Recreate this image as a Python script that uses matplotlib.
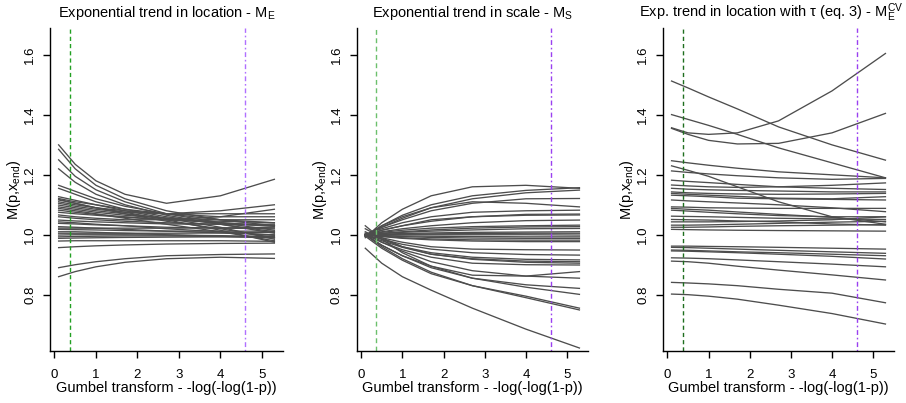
import matplotlib
matplotlib.use("Agg")
import matplotlib.pyplot as plt

plt.rcParams['font.family'] = ['Liberation Sans', 'DejaVu Sans']
plt.rcParams['mathtext.fontset'] = 'custom'
plt.rcParams['mathtext.rm'] = 'Liberation Sans'
plt.rcParams['mathtext.it'] = 'Liberation Sans:italic'

# x positions (Gumbel transform) at which the curves were read
gumbel_x = [0.1, 0.5, 1.0, 1.7, 2.7, 4.0, 5.3]

# Panel 1: exponential trend in location (M_E)
curves_loc = [
    [1.300, 1.235, 1.180, 1.135, 1.105, 1.130, 1.185],
    [1.285, 1.220, 1.165, 1.120, 1.080, 1.050, 1.030],
    [1.250, 1.195, 1.150, 1.110, 1.070, 1.040, 1.015],
    [1.220, 1.175, 1.135, 1.100, 1.065, 1.035, 1.005],
    [1.165, 1.145, 1.120, 1.095, 1.070, 1.050, 1.040],
    [1.155, 1.135, 1.110, 1.085, 1.060, 1.035, 1.010],
    [1.127, 1.115, 1.100, 1.080, 1.055, 1.025, 0.985],
    [1.121, 1.110, 1.100, 1.085, 1.070, 1.060, 1.060],
    [1.116, 1.105, 1.090, 1.075, 1.050, 1.015, 0.975],
    [1.118, 1.105, 1.090, 1.070, 1.045, 1.020, 0.990],
    [1.110, 1.100, 1.090, 1.080, 1.070, 1.070, 1.070],
    [1.105, 1.095, 1.085, 1.075, 1.070, 1.080, 1.100],
    [1.099, 1.090, 1.080, 1.070, 1.055, 1.040, 1.030],
    [1.093, 1.085, 1.075, 1.065, 1.055, 1.050, 1.050],
    [1.088, 1.080, 1.070, 1.055, 1.035, 1.010, 0.980],
    [1.082, 1.075, 1.068, 1.060, 1.050, 1.040, 1.028],
    [1.075, 1.070, 1.065, 1.058, 1.050, 1.045, 1.040],
    [1.066, 1.060, 1.055, 1.050, 1.050, 1.060, 1.085],
    [1.060, 1.055, 1.050, 1.045, 1.040, 1.035, 1.030],
    [1.049, 1.046, 1.043, 1.040, 1.036, 1.035, 1.035],
    [1.043, 1.040, 1.035, 1.030, 1.020, 1.010, 0.998],
    [1.038, 1.036, 1.033, 1.030, 1.025, 1.022, 1.020],
    [1.027, 1.025, 1.022, 1.018, 1.012, 1.006, 1.000],
    [1.022, 1.022, 1.022, 1.022, 1.022, 1.023, 1.025],
    [1.018, 1.017, 1.016, 1.014, 1.012, 1.012, 1.012],
    [1.010, 1.010, 1.008, 1.005, 1.000, 0.995, 0.990],
    [1.005, 1.005, 1.005, 1.005, 1.005, 1.006, 1.008],
    [0.999, 1.000, 1.000, 1.000, 0.999, 0.997, 0.994],
    [0.993, 0.994, 0.995, 0.996, 0.996, 0.994, 0.990],
    [0.988, 0.989, 0.990, 0.991, 0.992, 0.993, 0.995],
    [0.979, 0.980, 0.980, 0.980, 0.980, 0.980, 0.978],
    [0.957, 0.960, 0.963, 0.966, 0.969, 0.971, 0.972],
    [0.890, 0.900, 0.910, 0.920, 0.930, 0.934, 0.936],
    [0.860, 0.877, 0.893, 0.908, 0.920, 0.925, 0.921],
]

# Panel 2: exponential trend in scale (M_S)
curves_scale = [
    [0.990, 1.040, 1.085, 1.130, 1.160, 1.165, 1.155],
    [0.995, 1.030, 1.065, 1.100, 1.130, 1.148, 1.157],
    [0.995, 1.025, 1.055, 1.090, 1.120, 1.140, 1.149],
    [1.000, 1.025, 1.050, 1.080, 1.105, 1.120, 1.121],
    [0.995, 1.030, 1.060, 1.090, 1.110, 1.105, 1.093],
    [1.000, 1.020, 1.040, 1.060, 1.075, 1.080, 1.082],
    [1.000, 1.015, 1.030, 1.045, 1.060, 1.068, 1.069],
    [0.995, 1.015, 1.030, 1.050, 1.060, 1.065, 1.066],
    [1.000, 1.010, 1.020, 1.030, 1.040, 1.047, 1.049],
    [1.000, 1.008, 1.015, 1.022, 1.027, 1.030, 1.032],
    [1.000, 1.005, 1.010, 1.016, 1.022, 1.026, 1.027],
    [1.000, 1.004, 1.008, 1.012, 1.016, 1.020, 1.021],
    [1.000, 1.002, 1.004, 1.006, 1.008, 1.009, 1.010],
    [1.000, 1.001, 1.002, 1.003, 1.004, 1.005, 1.005],
    [1.000, 1.000, 1.000, 1.000, 1.000, 1.000, 0.999],
    [0.998, 0.997, 0.996, 0.995, 0.994, 0.993, 0.993],
    [1.000, 0.997, 0.994, 0.991, 0.989, 0.988, 0.988],
    [1.000, 0.995, 0.990, 0.986, 0.983, 0.982, 0.982],
    [1.000, 0.994, 0.988, 0.983, 0.979, 0.977, 0.977],
    [1.005, 0.990, 0.975, 0.960, 0.952, 0.950, 0.949],
    [1.000, 0.985, 0.968, 0.952, 0.940, 0.934, 0.932],
    [1.010, 0.985, 0.960, 0.940, 0.925, 0.918, 0.916],
    [1.000, 0.980, 0.958, 0.935, 0.920, 0.912, 0.910],
    [1.020, 0.990, 0.960, 0.935, 0.918, 0.908, 0.905],
    [1.000, 0.975, 0.950, 0.925, 0.905, 0.900, 0.899],
    [1.000, 0.965, 0.930, 0.895, 0.865, 0.862, 0.877],
    [1.005, 0.975, 0.945, 0.910, 0.880, 0.862, 0.855],
    [1.000, 0.965, 0.930, 0.890, 0.855, 0.833, 0.821],
    [1.030, 0.985, 0.940, 0.895, 0.855, 0.825, 0.801],
    [0.995, 0.955, 0.915, 0.870, 0.830, 0.795, 0.755],
    [1.000, 0.960, 0.920, 0.875, 0.830, 0.790, 0.749],
    [0.955, 0.905, 0.860, 0.815, 0.755, 0.685, 0.622],
]

# Panel 3: exponential trend in location with tau (M_E^CV)
curves_cv = [
    [1.513, 1.490, 1.460, 1.420, 1.360, 1.300, 1.249],
    [1.401, 1.385, 1.365, 1.335, 1.290, 1.240, 1.190],
    [1.357, 1.340, 1.335, 1.340, 1.380, 1.480, 1.605],
    [1.355, 1.335, 1.315, 1.303, 1.305, 1.340, 1.405],
    [1.247, 1.240, 1.232, 1.222, 1.210, 1.200, 1.190],
    [1.230, 1.215, 1.195, 1.160, 1.110, 1.060, 1.035],
    [1.213, 1.208, 1.203, 1.197, 1.190, 1.185, 1.188],
    [1.182, 1.178, 1.174, 1.168, 1.160, 1.155, 1.151],
    [1.166, 1.163, 1.160, 1.158, 1.160, 1.165, 1.173],
    [1.155, 1.152, 1.150, 1.148, 1.146, 1.143, 1.143],
    [1.143, 1.140, 1.138, 1.136, 1.135, 1.136, 1.138],
    [1.138, 1.135, 1.132, 1.128, 1.122, 1.120, 1.127],
    [1.132, 1.130, 1.127, 1.122, 1.120, 1.118, 1.116],
    [1.116, 1.113, 1.110, 1.106, 1.100, 1.090, 1.077],
    [1.093, 1.092, 1.090, 1.089, 1.088, 1.088, 1.088],
    [1.088, 1.085, 1.082, 1.076, 1.068, 1.058, 1.043],
    [1.082, 1.079, 1.075, 1.070, 1.064, 1.060, 1.060],
    [1.062, 1.061, 1.060, 1.058, 1.055, 1.053, 1.051],
    [1.051, 1.050, 1.049, 1.046, 1.043, 1.036, 1.032],
    [1.043, 1.043, 1.043, 1.044, 1.046, 1.050, 1.060],
    [1.032, 1.032, 1.033, 1.035, 1.038, 1.042, 1.045],
    [1.025, 1.025, 1.026, 1.028, 1.030, 1.032, 1.034],
    [1.018, 1.017, 1.016, 1.015, 1.014, 1.013, 1.012],
    [0.962, 0.962, 0.961, 0.960, 0.958, 0.955, 0.952],
    [0.958, 0.957, 0.955, 0.952, 0.948, 0.943, 0.938],
    [0.949, 0.948, 0.946, 0.943, 0.940, 0.935, 0.930],
    [0.946, 0.945, 0.943, 0.940, 0.935, 0.928, 0.919],
    [0.923, 0.922, 0.920, 0.916, 0.910, 0.902, 0.893],
    [0.912, 0.910, 0.905, 0.895, 0.882, 0.866, 0.849],
    [0.841, 0.839, 0.836, 0.830, 0.818, 0.805, 0.773],
    [0.802, 0.800, 0.795, 0.785, 0.765, 0.737, 0.702],
]

titles = [
    r'Exponential trend in location - M$_\mathrm{E}$',
    r'Exponential trend in scale - M$_\mathrm{S}$',
    r'Exp. trend in location with τ (eq. 3) - M$_\mathrm{E}^\mathrm{CV}$',
]
vline_x = [0.367, 4.600]
x_ticks = [0, 1, 2, 3, 4, 5]
y_ticks = [0.8, 1.0, 1.2, 1.4, 1.6]
y_ticklabels = ['0.8', '1.0', '1.2', '1.4', '1.6']
xlabel = 'Gumbel transform - -log(-log(1-p))'
ylabel = r'M(p,x$_\mathrm{end}$)'

green_cols = ['#22a022', '#6cc06c', '#1e6e1e']
purple_cols = ['#b070ff', '#9a40f0', '#9a40f0']
green_dash = [(0, (3.0, 2.2)), (0, (3.5, 2.5)), (0, (3.0, 2.2))]

W, H = 906, 403
fig = plt.figure(figsize=(W / 100, H / 100), dpi=100)
lefts = [50, 356.7, 663]
rights = [283, 588, 894]
top_px, bot_px = 28, 351

all_curves = [curves_loc, curves_scale, curves_cv]
for i in range(3):
    ax = fig.add_axes([lefts[i] / W, 1 - bot_px / H,
                       (rights[i] - lefts[i]) / W, (bot_px - top_px) / H])
    for c in all_curves[i]:
        ax.plot(gumbel_x, c, color='#4d4d4d', lw=0.95, solid_joinstyle='round')
    ax.axvline(vline_x[0], color=green_cols[i], lw=1.0, linestyle=green_dash[i])
    ax.axvline(vline_x[1], color=purple_cols[i], lw=1.0, linestyle=(0, (1.2, 2.0, 3.5, 2.0)))
    ax.set_xlim(-0.108, 5.508)
    ax.set_ylim(0.612, 1.69)
    ax.set_xticks(x_ticks)
    ax.set_yticks(y_ticks)
    ax.set_yticklabels(y_ticklabels, rotation=90, va='center')
    for s in ['top', 'right']:
        ax.spines[s].set_visible(False)
    for s in ['left', 'bottom']:
        ax.spines[s].set_linewidth(1.0)
    ax.tick_params(direction='out', length=5, width=1.0, labelsize=9.5, pad=5)
    ax.tick_params(axis='x', pad=8)
    if i < 2:
        ax.set_title(titles[i], fontsize=10.5, pad=8)
    else:
        fig.text(903 / W, 1 - 13 / H, titles[i], fontsize=10.5,
                 ha='right', va='center')
    ax.set_xlabel(xlabel, fontsize=10.5, labelpad=0)
    ax.set_ylabel(ylabel, fontsize=10.5, labelpad=1)

fig.savefig('out.png', dpi=100)
